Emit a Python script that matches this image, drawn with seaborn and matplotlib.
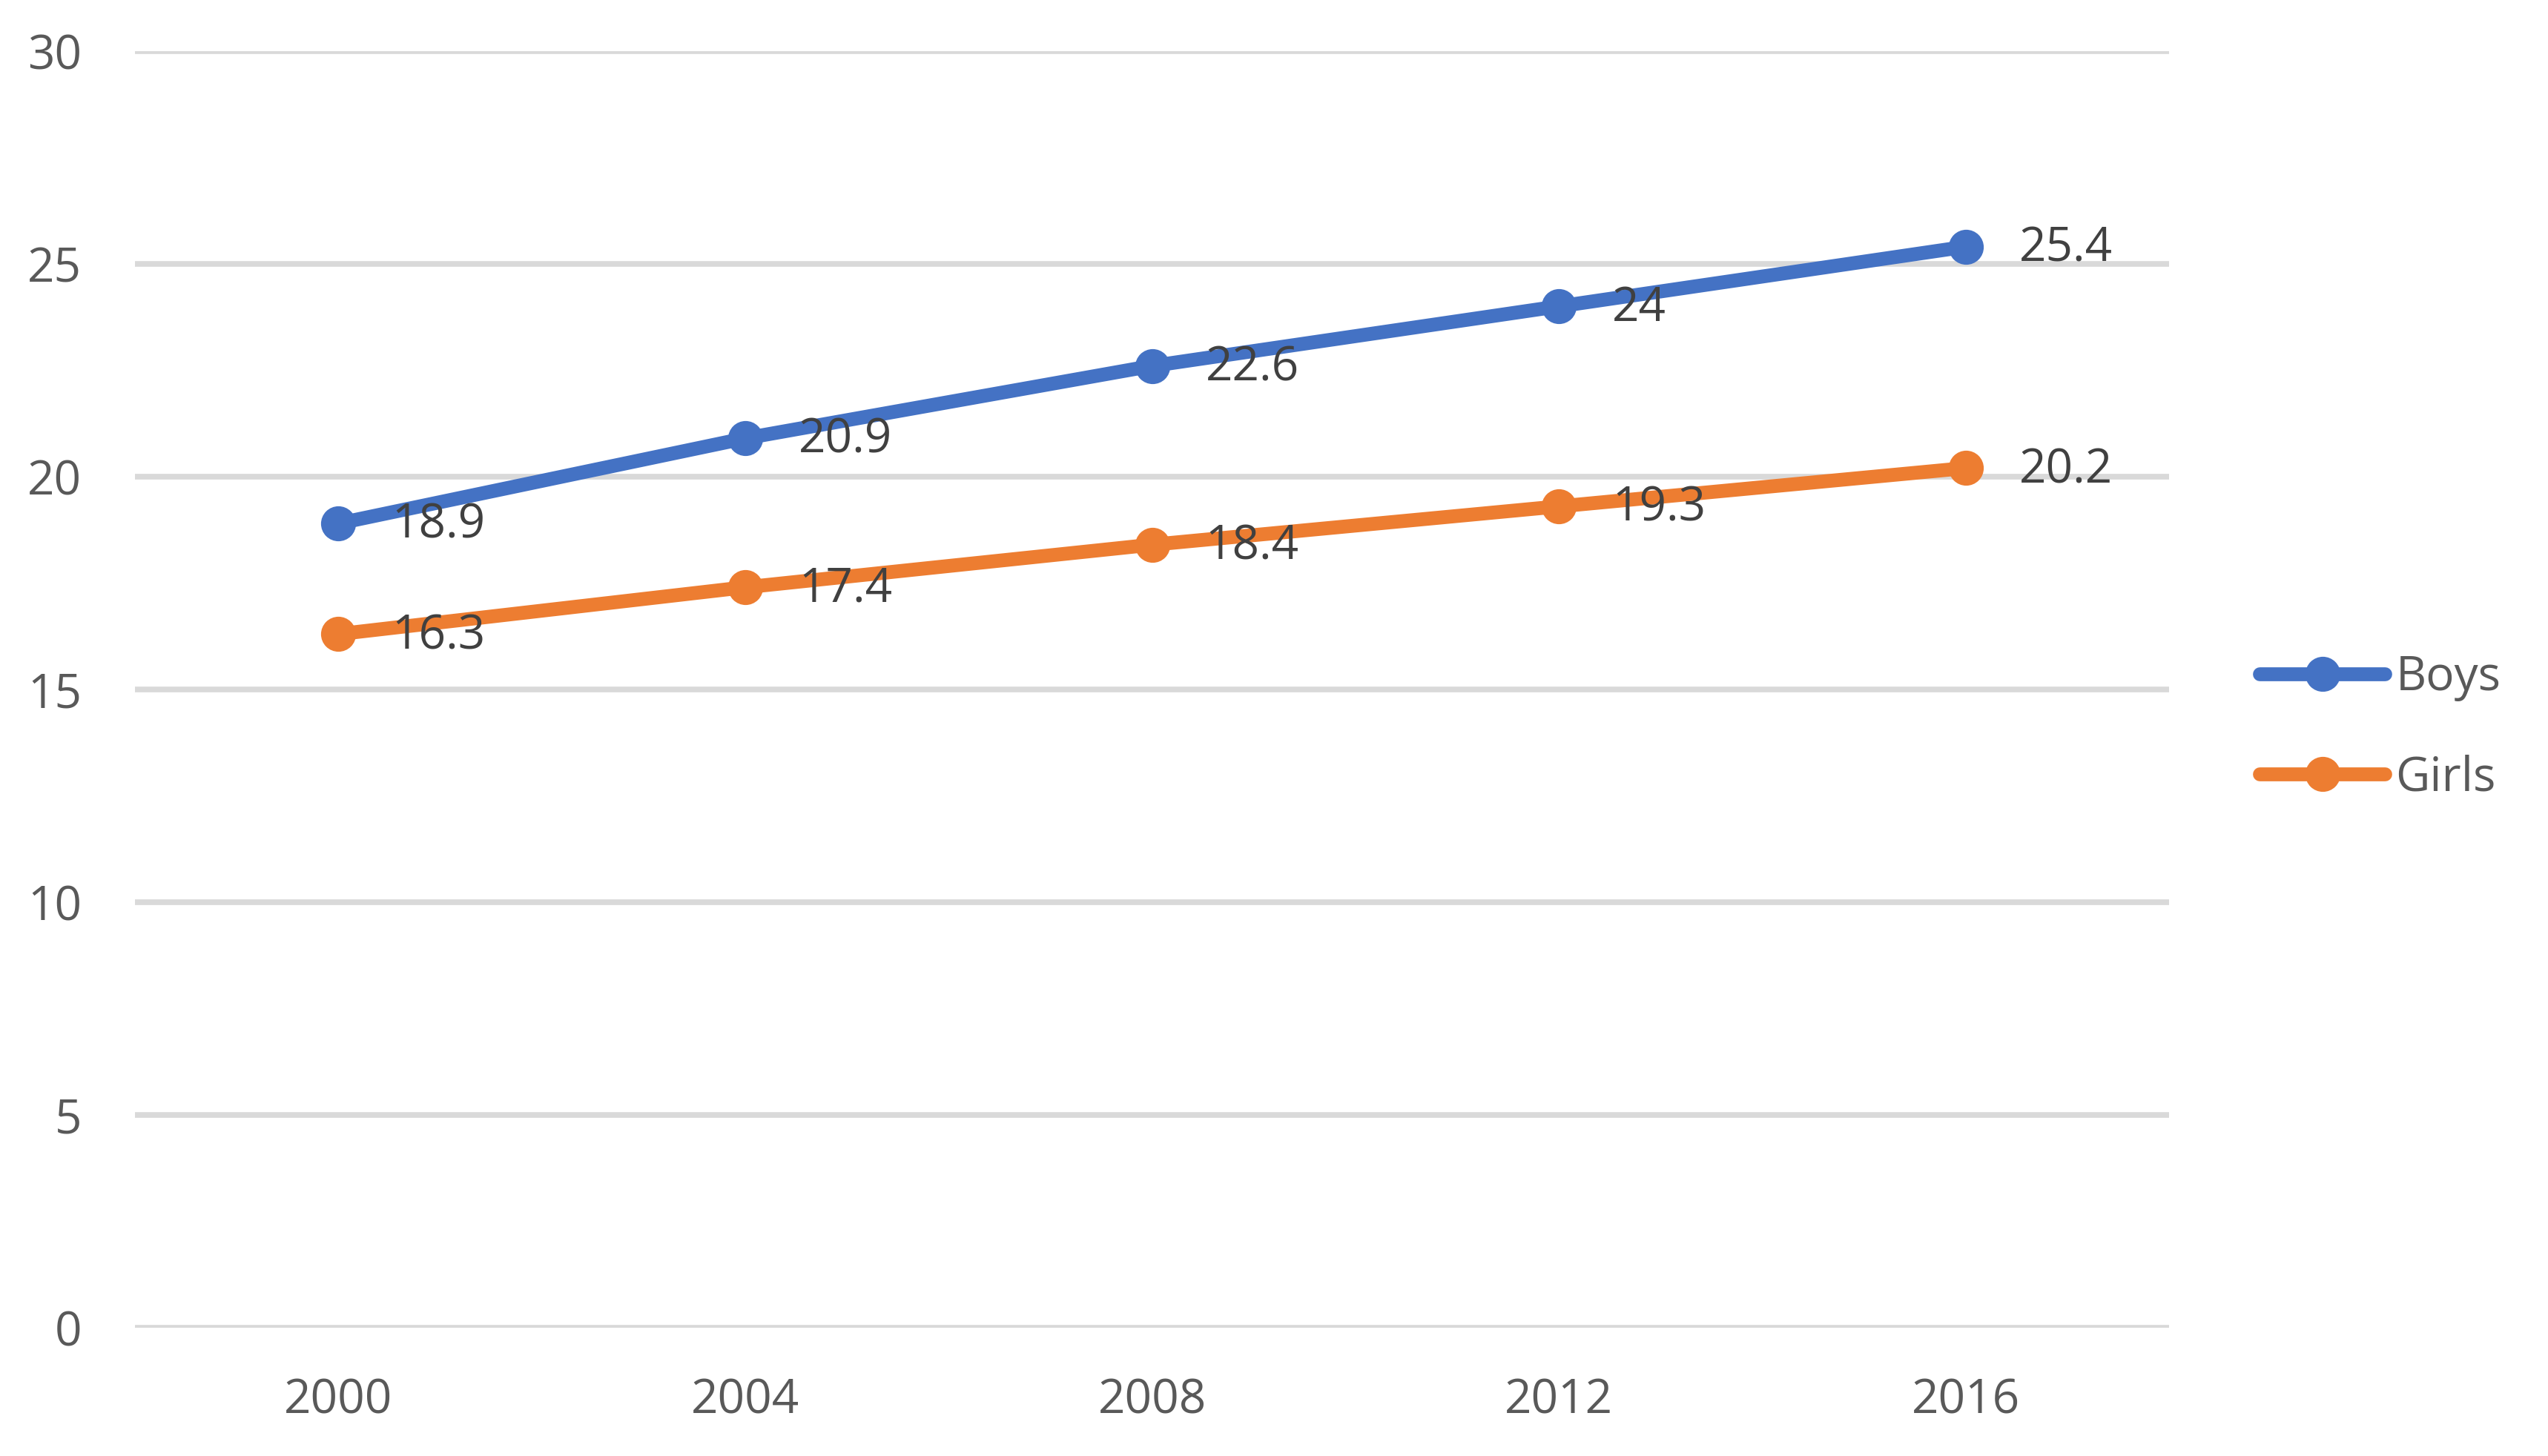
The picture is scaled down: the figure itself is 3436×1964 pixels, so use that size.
import matplotlib
matplotlib.use("Agg")
import matplotlib.pyplot as plt
import seaborn as sns
import pandas as pd

years = ["2000", "2004", "2008", "2012", "2016"]
boys = [18.9, 20.9, 22.6, 24, 25.4]
girls = [16.3, 17.4, 18.4, 19.3, 20.2]
series_names = ["Boys", "Girls"]
colors = ["#4472C4", "#ED7D31"]
yticks = [0, 5, 10, 15, 20, 25, 30]

sns.set_theme(style="white")
plt.rcParams['font.family'] = ['Open Sans', 'DejaVu Sans']

rows = []
for name, vals in zip(series_names, [boys, girls]):
    for i, (y, v) in enumerate(zip(years, vals)):
        rows.append({"pos": i, "year": y, "value": v, "series": name})
df = pd.DataFrame(rows)

fig = plt.figure(figsize=(34.37, 19.64), dpi=100)
ax = fig.add_axes([0.053, 0.088, 0.798, 0.877])

sns.lineplot(data=df, x="pos", y="value", hue="series", hue_order=series_names,
             palette=colors, marker="o", markersize=34, markeredgewidth=0,
             linewidth=13.5, ax=ax, legend=True, zorder=3)

for name, vals in zip(series_names, [boys, girls]):
    for i, v in enumerate(vals):
        lbl = f"{v:g}"
        ax.annotate(lbl, (i, v), xytext=(52, -2), textcoords="offset points",
                    ha="left", va="center", fontsize=46, color="#404040", zorder=4)

ax.set_xlim(-0.5, len(years) - 0.5)
ax.set_ylim(0, 30)
ax.set_xticks(range(len(years)))
ax.set_xticklabels(years)
ax.set_yticks(yticks)
ax.set_yticklabels([str(t) for t in yticks])
ax.tick_params(axis="both", length=0, labelsize=46, colors="#595959")
ax.tick_params(axis="y", pad=52)
ax.tick_params(axis="x", pad=48)
ax.set_xlabel("")
ax.set_ylabel("")
ax.grid(axis="y", color="#D9D9D9", linewidth=5.5, zorder=0)
ax.set_axisbelow(True)
for s in ax.spines.values():
    s.set_visible(False)

handles, labels = ax.get_legend_handles_labels()
ax.legend(handles, labels, loc="center left", bbox_to_anchor=(0.8865, 0.5),
          bbox_transform=fig.transFigure, frameon=False, fontsize=46,
          labelcolor="#595959", handlelength=2.65, handletextpad=0.22,
          labelspacing=1.12, borderaxespad=0, borderpad=0)

fig.savefig("out.png", dpi=100, facecolor="white")
